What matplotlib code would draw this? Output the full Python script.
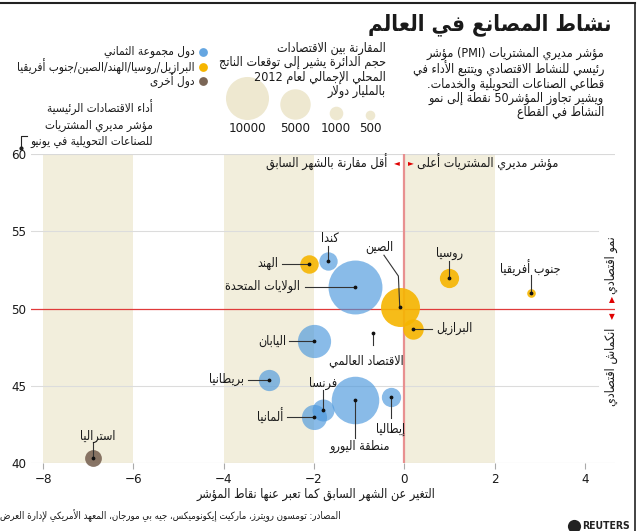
import re
import numpy as np
import matplotlib
matplotlib.use("Agg")
import matplotlib.pyplot as plt

plt.rcParams['font.family'] = ['DejaVu Sans']
plt.rcParams['font.stretch'] = 'condensed'

# --- tiny Arabic shaper + RTL reorder (matplotlib does no shaping) ---
FORMS = {
    '\u0621': (0xFE80, 1), '\u0622': (0xFE81, 2), '\u0623': (0xFE83, 2),
    '\u0624': (0xFE85, 2), '\u0625': (0xFE87, 2), '\u0626': (0xFE89, 4),
    '\u0627': (0xFE8D, 2), '\u0628': (0xFE8F, 4), '\u0629': (0xFE93, 2),
    '\u062A': (0xFE95, 4), '\u062B': (0xFE99, 4), '\u062C': (0xFE9D, 4),
    '\u062D': (0xFEA1, 4), '\u062E': (0xFEA5, 4), '\u062F': (0xFEA9, 2),
    '\u0630': (0xFEAB, 2), '\u0631': (0xFEAD, 2), '\u0632': (0xFEAF, 2),
    '\u0633': (0xFEB1, 4), '\u0634': (0xFEB5, 4), '\u0635': (0xFEB9, 4),
    '\u0636': (0xFEBD, 4), '\u0637': (0xFEC1, 4), '\u0638': (0xFEC5, 4),
    '\u0639': (0xFEC9, 4), '\u063A': (0xFECD, 4), '\u0641': (0xFED1, 4),
    '\u0642': (0xFED5, 4), '\u0643': (0xFED9, 4), '\u0644': (0xFEDD, 4),
    '\u0645': (0xFEE1, 4), '\u0646': (0xFEE5, 4), '\u0647': (0xFEE9, 4),
    '\u0648': (0xFEED, 2), '\u0649': (0xFEEF, 2), '\u064A': (0xFEF1, 4),
}
LAMALEF = {'\u0622': 0xFEF5, '\u0623': 0xFEF7, '\u0625': 0xFEF9, '\u0627': 0xFEFB}
MIRROR = str.maketrans('()', ')(')
LTR = re.compile(r'[A-Za-z0-9]+(?:[.,][0-9]+)*')


def shape(s):
    toks = []
    i = 0
    while i < len(s):
        if s[i] == '\u0644' and i + 1 < len(s) and s[i + 1] in LAMALEF:
            toks.append(('LA', LAMALEF[s[i + 1]]))
            i += 2
        else:
            toks.append(('C', s[i]))
            i += 1

    def jtype(t):
        if t[0] == 'LA':
            return 'R'
        if t[1] in FORMS:
            return {4: 'D', 2: 'R', 1: 'U'}[FORMS[t[1]][1]]
        return None

    out = []
    for k, t in enumerate(toks):
        jt = jtype(t)
        prev = jtype(toks[k - 1]) if k > 0 else None
        nxt = jtype(toks[k + 1]) if k + 1 < len(toks) else None
        jp = jt in ('D', 'R') and prev == 'D'
        jn = jt == 'D' and nxt in ('D', 'R')
        if t[0] == 'LA':
            out.append(chr(t[1] + (1 if jp else 0)))
        elif jt is None:
            out.append(t[1])
        elif jt == 'U':
            out.append(chr(FORMS[t[1]][0]))
        else:
            idx = 3 if (jp and jn) else 1 if jp else 2 if jn else 0
            out.append(chr(FORMS[t[1]][0] + idx))
    return ''.join(out)


def visual(line):
    parts, pos = [], 0
    for m in LTR.finditer(line):
        if m.start() > pos:
            parts.append(('R', line[pos:m.start()]))
        parts.append(('L', m.group()))
        pos = m.end()
    if pos < len(line):
        parts.append(('R', line[pos:]))
    res = []
    for kind, txt in reversed(parts):
        res.append(txt if kind == 'L' else shape(txt)[::-1].translate(MIRROR))
    return ''.join(res)


def ar(text):
    return '\n'.join(visual(l) for l in text.split('\n'))


# --- data ---
countries = ['كندا', 'الهند', 'الولايات المتحدة', 'الصين', 'روسيا', 'جنوب أفريقيا',
             'البرازيل', 'اليابان', 'بريطانيا', 'فرنسا', 'ألمانيا', 'منطقة اليورو',
             'إيطاليا', 'استراليا']
pmi_change = [-1.7, -2.1, -1.1, -0.1, 1.0, 2.8, 0.2, -2.0, -3.0, -1.8, -2.0, -1.1, -0.3, -6.9]
pmi_june = [53.05, 52.9, 51.4, 50.1, 52.0, 51.0, 48.7, 47.9, 45.4, 43.4, 43.0, 44.05, 44.3, 40.35]
gdp_2012 = [1820, 1840, 15700, 8200, 2000, 400, 2250, 5960, 2440, 2610, 3400, 12200, 2010, 1520]
group = ['g8', 'brics', 'g8', 'brics', 'brics', 'brics', 'brics', 'g8', 'g8', 'g8', 'g8', 'g8',
         'g8', 'other']
world_change, world_pmi = -0.7, 48.4

size_legend_values = [10000, 5000, 1000, 500]
x_ticks = [-8, -6, -4, -2, 0, 2, 4]
y_ticks = [40, 45, 50, 55, 60]
bands = [(-8, -6), (-4, -2), (0, 2)]

# label layout: text x, text y, alignment, leader points (from bubble centre)
label_layout = {
    'كندا': (-1.64, 54.55, 'center', [(-1.7, 54.05)]),
    'الهند': (-2.8, 52.9, 'right', [(-2.72, 52.9)]),
    'الولايات المتحدة': (-2.3, 51.4, 'right', [(-2.2, 51.4)]),
    'الصين': (-0.55, 53.95, 'center', [(-0.13, 52.1), (-0.45, 53.45)]),
    'روسيا': (1.0, 53.55, 'center', [(1.0, 53.1)]),
    'جنوب أفريقيا': (2.8, 52.6, 'center', [(2.8, 52.2)]),
    'البرازيل': (0.72, 48.7, 'left', [(0.62, 48.7)]),
    'اليابان': (-2.62, 47.9, 'right', [(-2.55, 47.9)]),
    'بريطانيا': (-3.55, 45.4, 'right', [(-3.47, 45.4)]),
    'فرنسا': (-1.8, 45.15, 'center', [(-1.8, 44.7)]),
    'ألمانيا': (-2.68, 43.0, 'right', [(-2.59, 43.0)]),
    'منطقة اليورو': (-0.98, 41.05, 'center', [(-1.1, 41.65)]),
    'إيطاليا': (-0.3, 42.2, 'center', [(-0.3, 42.9)]),
    'استراليا': (-6.8, 41.75, 'center', [(-6.9, 41.3)]),
}

colors = {'g8': '#4a97dc', 'brics': '#f6b500', 'other': '#7b6656'}
alphas = {'g8': 0.65, 'brics': 0.9, 'other': 0.9}
SIZE_K = 0.096  # points^2 per billion dollars
TXT = '#1a1a1a'
FS = 9

fig = plt.figure(figsize=(6.4, 5.31), dpi=100)
ax = fig.add_axes([30.6 / 640, 1 - 463 / 531, (615 - 30.6) / 640, (463 - 154) / 531])
ax.set_xlim(-8.28, 4.67)
ax.set_ylim(40, 60)
for s in ax.spines.values():
    s.set_visible(False)

for a, b in bands:
    ax.axvspan(a, b, ymin=0, ymax=1, color='#f2eedc', lw=0, zorder=0)
for yv in y_ticks:
    if yv in (40, 60):
        ax.axhline(yv, color='#d9d9d9', lw=0.8, zorder=1)
    elif yv != 50:
        ax.plot([-8.28, 4.3], [yv, yv], color='#dcdcdc', lw=0.8, zorder=1)
ax.axhline(50, color='#e03a3a', lw=0.9, zorder=2)
ax.axvline(0, color='#e89090', lw=1.6, zorder=2)

ax.set_xticks(x_ticks)
ax.set_yticks(y_ticks)
ax.tick_params(axis='x', length=4, color='#aaaaaa', width=0.8, labelsize=9.5, pad=3, labelcolor=TXT)
ax.tick_params(axis='y', length=0, labelsize=9.5, pad=3, labelcolor=TXT)

sizes = [SIZE_K * g for g in gdp_2012]
order = np.argsort(gdp_2012)[::-1]
for i in order:
    ax.scatter(pmi_change[i], pmi_june[i], s=sizes[i], color=colors[group[i]],
               alpha=alphas[group[i]], lw=0, zorder=3, clip_on=False)
ax.scatter(pmi_change, pmi_june, s=3, color='#111111', zorder=5, clip_on=False)

for name, xv, yv in zip(countries, pmi_change, pmi_june):
    tx, ty, ha, pts = label_layout[name]
    xs = [xv] + [p[0] for p in pts]
    ys = [yv] + [p[1] for p in pts]
    ax.plot(xs, ys, color='#333333', lw=0.8, zorder=4)
    ax.text(tx, ty, ar(name), ha=ha, va='center', fontsize=FS, color=TXT, zorder=6)

ax.plot([world_change, world_change], [world_pmi, world_pmi - 0.75], color='#333333', lw=0.8, zorder=4)
ax.scatter([world_change], [world_pmi], s=3, color='#111111', zorder=5)
ax.text(-0.84, 46.6, ar('الاقتصاد العالمي'), ha='center', va='center', fontsize=FS, color=TXT)

ax.text(-0.38, 59.45, ar('أقل مقارنة بالشهر السابق'), ha='right', va='center', fontsize=FS, color=TXT)
ax.text(-0.17, 59.45, '\u25C4', ha='center', va='center', fontsize=6, color='#e00000')
ax.text(0.15, 59.45, '\u25BA', ha='center', va='center', fontsize=6, color='#e00000')
ax.text(0.28, 59.45, ar('مؤشر مديري المشتريات أعلى'), ha='left', va='center', fontsize=FS, color=TXT)

# --- overlay for header, legends, notes (pixel coordinates) ---
ov = fig.add_axes([0, 0, 1, 1], facecolor='none')
ov.set_xlim(0, 640)
ov.set_ylim(531, 0)
ov.axis('off')

ov.plot([0, 635], [2.5, 2.5], color='#222222', lw=1.5)
ov.plot([635, 635], [2.5, 531], color='#222222', lw=1.2)

ov.text(611, 25, ar('نشاط المصانع في العالم'), ha='right', va='center', fontsize=16,
        fontweight='bold', color=TXT)

ov.text(604, 47, ar('مؤشر مديري المشتريات (PMI) مؤشر\nرئيسي للنشاط الاقتصادي ويتتبع الأداء في\n'
                    'قطاعي الصناعات التحويلية والخدمات.\nويشير تجاوز المؤشر50 نقطة إلى نمو\nالنشاط في القطاع'),
        ha='right', va='top', fontsize=FS, color=TXT, linespacing=1.08, multialignment='right')

ov.text(386, 42, ar('المقارنة بين الاقتصادات\nحجم الدائرة يشير إلى توقعات الناتج\n'
                    'المحلي الإجمالي لعام 2012\nبالمليار دولار'),
        ha='right', va='top', fontsize=FS, color=TXT, linespacing=1.1, multialignment='right')

legend_x = [247, 295, 335.5, 370]
for v, lx in zip(size_legend_values, legend_x):
    d = np.sqrt(SIZE_K * v) / 0.72
    ov.scatter(lx, 119.5 - d / 2, s=SIZE_K * v, color='#eee8d0', lw=0)
    ov.text(lx, 128, str(v), ha='center', va='center', fontsize=9.5, color=TXT)

legend_groups = [('g8', 'دول مجموعة الثماني'),
                 ('brics', 'البرازيل/روسيا/الهند/الصين/جنوب أفريقيا'),
                 ('other', 'دول أخرى')]
for (g, lab), yy in zip(legend_groups, [52, 66.5, 81]):
    ov.scatter(203, yy, s=40, color=colors[g], alpha=min(1, alphas[g] + 0.2), lw=0)
    ov.text(195, yy, ar(lab), ha='right', va='center', fontsize=8.5, color=TXT)

for lab, yy in zip(['أداء الاقتصادات الرئيسية', 'مؤشر مديري المشتريات', 'للصناعات التحويلية في يونيو'],
                   [108, 125, 142]):
    ov.text(153, yy, ar(lab), ha='right', va='center', fontsize=8.5, color=TXT)
ov.plot([27, 21, 21], [136, 136, 147], color='#222222', lw=0.8)
ov.scatter([21], [147.5], s=4, color='#222222')

ov.text(611, 265, ar('نمو اقتصادي'), rotation=90, ha='center', va='center', fontsize=FS, color=TXT)
ov.text(611, 367, ar('انكماش اقتصادي'), rotation=90, ha='center', va='center', fontsize=FS, color=TXT)
ov.text(612, 300, '\u25B2', ha='center', va='center', fontsize=6, color='#e00000')
ov.text(612, 317, '\u25BC', ha='center', va='center', fontsize=6, color='#e00000')

ov.text(316, 494, ar('التغير عن الشهر السابق كما تعبر عنها نقاط المؤشر'), ha='center', va='center',
        fontsize=FS, color=TXT)
ov.text(341, 516, ar('المصادر: تومسون رويترز، ماركيت إيكونوميكس، جيه بي مورجان، المعهد الأمريكي لإدارة العرض'),
        ha='right', va='center', fontsize=6.9, color=TXT)

ov.scatter([574], [526], s=90, color='#222222', lw=0)
ov.text(582, 526, 'REUTERS', ha='left', va='center', fontsize=7.5, fontweight='bold', color='#222222')

fig.savefig('out.png', dpi=100)
